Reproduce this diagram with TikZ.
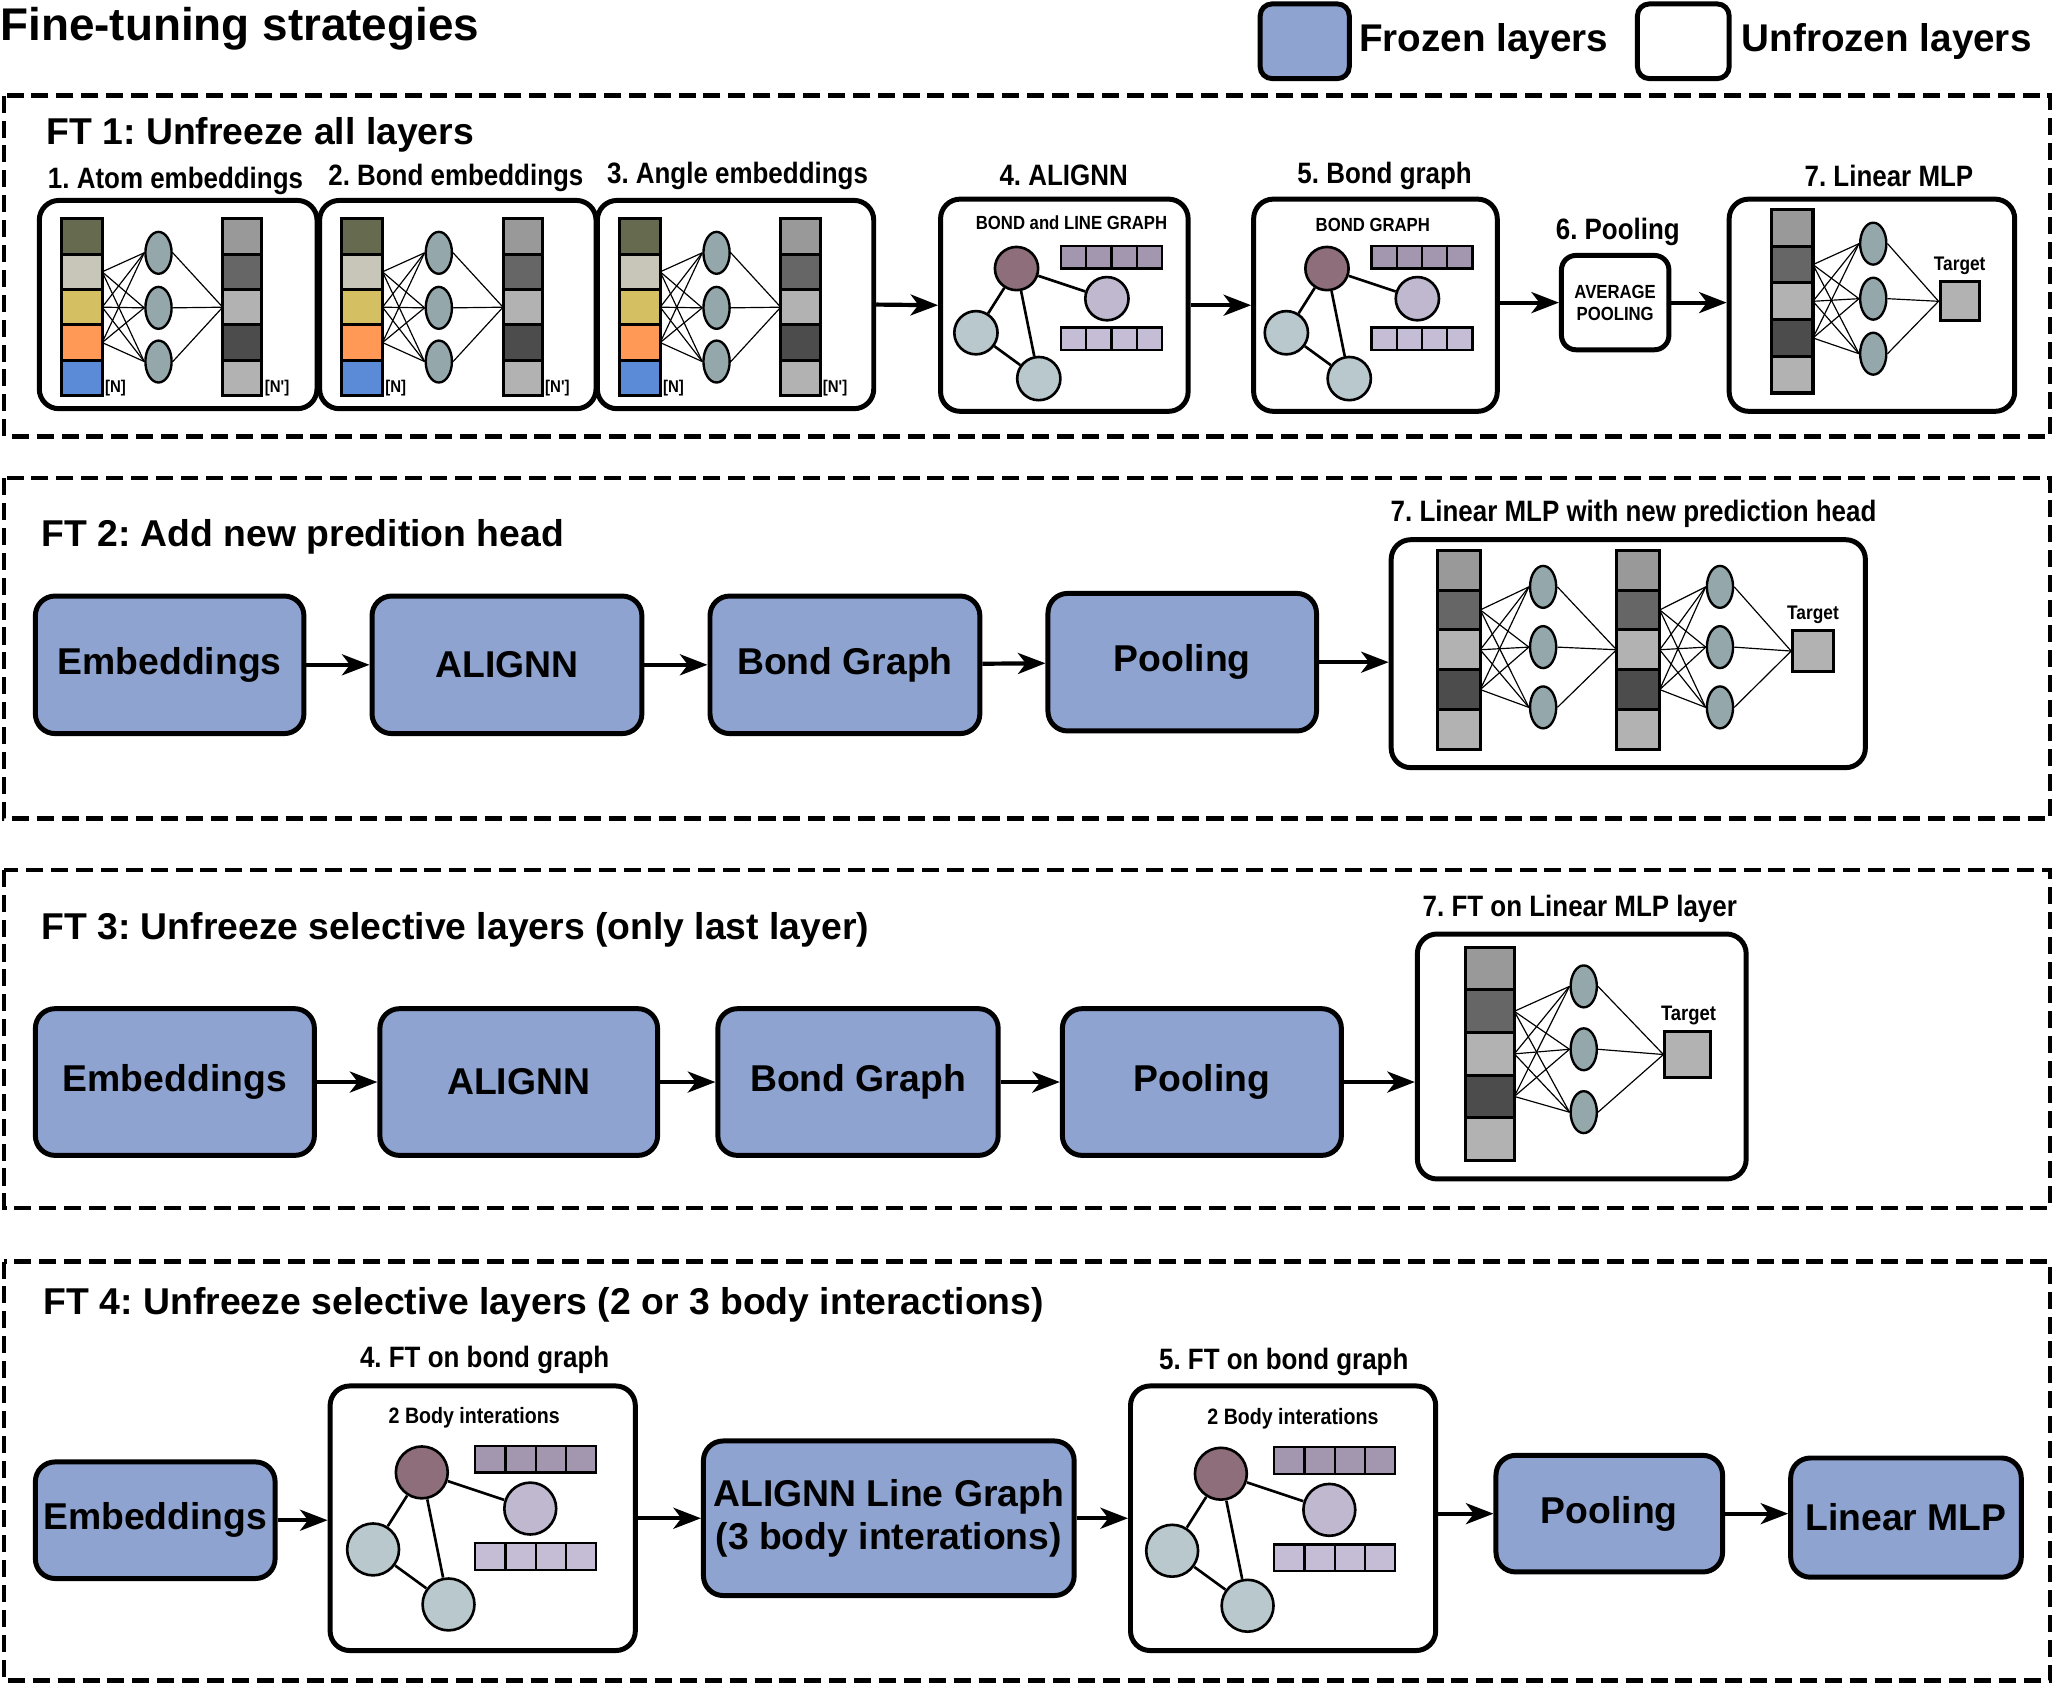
\documentclass[tikz,border=0pt]{standalone}
\usepackage{fontspec}
\setmainfont{Liberation Sans}
\newfontfamily\condf{Liberation Sans}[FakeStretch=0.88]
\usetikzlibrary{shapes.geometric,arrows.meta}
\definecolor{frz}{HTML}{8EA3CF}
\definecolor{ovc}{HTML}{94A7AA}
\definecolor{dkn}{HTML}{8D6E7A}
\definecolor{lpn}{HTML}{C0B8CF}
\definecolor{grn}{HTML}{B9C8CC}
\definecolor{bar1}{HTML}{A397B0}
\definecolor{bar2}{HTML}{C5BCD6}
\definecolor{c1}{HTML}{666B50}
\definecolor{c2}{HTML}{C8C6B8}
\definecolor{c3}{HTML}{D4BF62}
\definecolor{c4}{HTML}{FF9955}
\definecolor{c5}{HTML}{5B8BD6}
\frenchspacing
\tikzset{
 ubox/.style={draw, line width=3.8pt, rounded corners=15pt, fill=white, inner sep=0pt},
 fbox/.style={ubox, fill=frz, font=\fontsize{28.5}{33}\selectfont\bfseries, align=center},
 panel/.style={draw, line width=3.5pt, dash pattern=on 13pt off 6pt},
 arr/.style={-{Stealth[length=21pt,width=16pt,inset=6pt]}, line width=3.2pt},
 oval/.style={ellipse, draw, line width=1.8pt, fill=ovc, minimum width=20pt, minimum height=32pt, inner sep=0pt},
 gn/.style={circle, draw, line width=2pt, minimum size=33pt, inner sep=0pt},
 thin/.style={line width=0.9pt},
 cellf/.style={draw, line width=2.3pt},
 ptitle/.style={font=\fontsize{28.5}{32}\selectfont\bfseries, anchor=west},
 slabel/.style={font=\condf\fontsize{22.5}{26}\selectfont\bfseries},
 small/.style={font=\condf\fontsize{14.5}{17}\selectfont\bfseries, align=center},
}
% gray column: #1 x, #2 y, #3 w, #4 cell h
\newcommand{\graycol}[4]{%
 \foreach \cc [count=\k from 0] in {gray!80,gray!120,gray!60,gray!140,gray!60}{%
  \draw[cellf, fill=\cc] (#1,#2+\k*#4) rectangle ++(#3,#4);}}
% embedding unit: #1 name, #2 x shift
\newcommand{\embunit}[2]{%
 \begin{scope}[shift={(#2,0)}]
  \foreach \cc [count=\k from 0] in {c1,c2,c3,c4,c5}{%
   \draw[cellf, fill=\cc] (47,167+\k*27) rectangle ++(31,27);}
  \graycol{170}{167}{30}{27}
  \foreach \j/\yy in {1/193,2/235,3/276}{\node[oval] (#1o\j) at (121,\yy) {};}
  \coordinate (#1out) at (170,234.5);
  \foreach \yy in {207.5,234.5,261.5}{\foreach \j in {1,2,3}{\draw[thin] (78,\yy) -- (#1o\j.west);}}
  \foreach \j in {1,2,3}{\draw[thin] (#1o\j.east) -- (#1out);}
  \node[font=\condf\fontsize{13}{15}\selectfont\bfseries, anchor=west, inner sep=1pt] at (79,296) {[N]};
  \node[font=\condf\fontsize{13}{15}\selectfont\bfseries, anchor=west, inner sep=1pt] at (201,296) {[N']};
 \end{scope}}
% graph: #1 name, #2 x, #3 y, #4 scale
\newcommand{\bgraph}[4]{%
 \begin{scope}[shift={(#2,#3)}, scale=#4, every node/.append style={transform shape}]
  \node[gn, fill=dkn] (#1a) at (0,0) {};
  \node[gn, fill=lpn] (#1b) at (69,23) {};
  \node[gn, fill=grn] (#1c) at (-31,49) {};
  \node[gn, fill=grn] (#1d) at (17,84) {};
  \draw[line width=2pt] (#1a) -- (#1b) (#1a) -- (#1c) (#1a) -- (#1d) (#1c) -- (#1d);
  \foreach \k in {0,1,2,3}{%
   \draw[line width=1.7pt, fill=bar1] (34+\k*19.25,-17) rectangle ++(19.25,17);
   \draw[line width=1.7pt, fill=bar2] (34+\k*19.25,45) rectangle ++(19.25,17);}
 \end{scope}}
\begin{document}
\begin{tikzpicture}[x=1pt,y=-1pt]
\useasboundingbox (0,0) rectangle (1568,1286);
% title and legend
\node[anchor=west, font=\fontsize{35}{38}\selectfont\bfseries, inner sep=0pt] (title) at (0,22) {Fine-tuning strategies};
\node[ubox, fill=frz, rounded corners=9pt, minimum width=68pt, minimum height=57pt] (lgf) at (996,31.5) {};
\node[anchor=west, font=\fontsize{29.5}{32}\selectfont\bfseries] (lgft) at (1034,32) {Frozen layers};
\node[ubox, rounded corners=9pt, minimum width=70pt, minimum height=57pt] (lgu) at (1285,31.5) {};
\node[anchor=west, font=\fontsize{29.5}{32}\selectfont\bfseries] (lgut) at (1326,32) {Unfrozen layers};

% ---------- Panel 1
\draw[panel] (3,73) rectangle (1565,333);
\node[ptitle] (t1) at (32,103) {FT 1: Unfreeze all layers};
\node[ubox, minimum width=212pt, minimum height=159pt] (e1) at (136,232.5) {};
\node[ubox, minimum width=211pt, minimum height=159pt] (e2) at (349.5,232.5) {};
\node[ubox, minimum width=211pt, minimum height=159pt] (e3) at (561.5,232.5) {};
\embunit{ea}{0}\embunit{eb}{214}\embunit{ec}{426}
\node[slabel] at (134,138) {1. Atom embeddings};
\node[slabel] at (348,136) {2. Bond embeddings};
\node[slabel] at (563,134) {3. Angle embeddings};
\node[ubox, minimum width=189pt, minimum height=162pt] (al) at (812.5,233) {};
\node[slabel] at (812,134) {4. ALIGNN};
\node[small] at (818,170) {BOND and LINE GRAPH};
\bgraph{ga}{776}{205}{1}
\node[ubox, minimum width=186pt, minimum height=162pt] (bg) at (1050,233) {};
\node[slabel] at (1057,134) {5. Bond graph};
\node[small] at (1048,172) {BOND GRAPH};
\bgraph{gb}{1013}{205}{1}
\node[ubox, rounded corners=11pt, minimum width=82pt, minimum height=72pt, small] (po) at (1233,231) {AVERAGE\\POOLING};
\node[slabel] at (1235,177) {6. Pooling};
\node[ubox, minimum width=218pt, minimum height=162pt] (ml) at (1429,233) {};
\node[slabel] at (1442,134) {7. Linear MLP};
\graycol{1352}{160}{32}{28}
\foreach \j/\yy in {1/186,2/228,3/270}{\node[oval] (mo\j) at (1430,\yy) {};}
\node[draw, line width=2.3pt, fill=gray!60, minimum size=30pt, inner sep=0pt] (tg) at (1496,230) {};
\node[font=\condf\fontsize{15}{17}\selectfont\bfseries] at (1496,203) {Target};
\foreach \yy in {202,230,258}{\foreach \j in {1,2,3}{\draw[thin] (1384,\yy) -- (mo\j.west);}}
\foreach \j in {1,2,3}{\draw[thin] (mo\j.east) -- (tg.west);}
\draw[arr] (e3.east) -- (al.west);
\draw[arr] (al.east) -- (bg.west);
\draw[arr] (bg.east|-po.west) -- (po.west);
\draw[arr] (po.east) -- (ml.west|-po.east);

% ---------- Panel 2
\draw[panel] (3,365) rectangle (1565,625);
\node[ptitle] (t2) at (28,410) {FT 2: Add new predition head};
\node[fbox, minimum width=205pt, minimum height=105pt] (p2a) at (129.5,507.5) {Embeddings};
\node[fbox, minimum width=206pt, minimum height=105pt] (p2b) at (387,507.5) {ALIGNN};
\node[fbox, minimum width=206pt, minimum height=105pt] (p2c) at (645,507.5) {Bond Graph};
\node[fbox, minimum width=205pt, minimum height=105pt] (p2d) at (902.5,505.5) {Pooling};
\node[ubox, minimum width=362pt, minimum height=174pt] (p2m) at (1243,499) {};
\node[slabel] at (1247,392) {7. Linear MLP with new prediction head};
\graycol{1097}{420}{33}{30.4}
\graycol{1234}{420}{33}{30.4}
\foreach \j/\yy in {1/448,2/494,3/540}{\node[oval] (qa\j) at (1178,\yy) {}; \node[oval] (qb\j) at (1313,\yy) {};}
\node[draw, line width=2.3pt, fill=gray!60, minimum size=31pt, inner sep=0pt] (tg2) at (1384,497) {};
\node[font=\condf\fontsize{15}{17}\selectfont\bfseries] at (1384,469) {Target};
\foreach \yy in {465.6,496,526.4}{\foreach \j in {1,2,3}{\draw[thin] (1130,\yy) -- (qa\j.west); \draw[thin] (1267,\yy) -- (qb\j.west);}}
\foreach \j in {1,2,3}{\draw[thin] (qa\j.east) -- (1234,496); \draw[thin] (qb\j.east) -- (tg2.west);}
\draw[arr] (p2a) -- (p2b);
\draw[arr] (p2b) -- (p2c);
\draw[arr] (p2c) -- (p2d);
\draw[arr] (p2d.east) -- (p2m.west|-p2d.east);

% ---------- Panel 3
\draw[panel] (3,664) rectangle (1565,922);
\node[ptitle] (t3) at (28,710) {FT 3: Unfreeze selective layers (only last layer)};
\node[fbox, minimum width=213pt, minimum height=112pt] (p3a) at (133.5,826) {Embeddings};
\node[fbox, minimum width=212pt, minimum height=112pt] (p3b) at (396,826) {ALIGNN};
\node[fbox, minimum width=214pt, minimum height=112pt] (p3c) at (655,826) {Bond Graph};
\node[fbox, minimum width=213pt, minimum height=112pt] (p3d) at (917.5,826) {Pooling};
\node[ubox, minimum width=251pt, minimum height=187pt] (p3m) at (1207.5,806.5) {};
\node[slabel] at (1206,694) {7. FT on Linear MLP layer};
\graycol{1119}{723}{37}{32.6}
\foreach \j/\yy in {1/753,2/801,3/849}{\node[oval] (ra\j) at (1209,\yy) {};}
\node[draw, line width=2.3pt, fill=gray!60, minimum size=35pt, inner sep=0pt] (tg3) at (1288.5,805) {};
\node[font=\condf\fontsize{16}{18}\selectfont\bfseries] at (1289,775) {Target};
\foreach \yy in {772,804.5,837}{\foreach \j in {1,2,3}{\draw[thin] (1156,\yy) -- (ra\j.west);}}
\foreach \j in {1,2,3}{\draw[thin] (ra\j.east) -- (tg3.west);}
\draw[arr] (p3a) -- (p3b);
\draw[arr] (p3b) -- (p3c);
\draw[arr] (p3c) -- (p3d);
\draw[arr] (p3d.east) -- (p3m.west|-p3d.east);

% ---------- Panel 4
\draw[panel] (3,963) rectangle (1565,1283);
\node[ptitle] (t4) at (30,996) {FT 4: Unfreeze selective layers (2 or 3 body interactions)};
\node[fbox, minimum width=183pt, minimum height=89pt] (p4a) at (118.5,1160.5) {Embeddings};
\node[ubox, minimum width=233pt, minimum height=202pt] (p4b) at (368.5,1159) {};
\node[slabel] at (370,1038) {4. FT on bond graph};
\node[font=\condf\fontsize{17}{19}\selectfont\bfseries] at (362,1082) {2 Body interations};
\bgraph{gc}{322}{1124}{1.2}
\node[fbox, minimum width=283pt, minimum height=118pt] (p4c) at (678.5,1159) {ALIGNN Line Graph\\(3 body interations)};
\node[ubox, minimum width=233pt, minimum height=202pt] (p4d) at (979.5,1159) {};
\node[slabel] at (980,1040) {5. FT on bond graph};
\node[font=\condf\fontsize{17}{19}\selectfont\bfseries] at (987,1083) {2 Body interations};
\bgraph{gd}{932}{1125}{1.2}
\node[fbox, minimum width=173pt, minimum height=89pt] (p4e) at (1228.5,1155.5) {Pooling};
\node[fbox, minimum width=176pt, minimum height=91pt] (p4f) at (1455,1158.5) {Linear MLP};
\draw[arr] (p4a.east) -- (p4b.west|-p4a.east);
\draw[arr] (p4b.east|-p4c.west) -- (p4c.west);
\draw[arr] (p4c.east) -- (p4d.west|-p4c.east);
\draw[arr] (p4d.east|-p4e.west) -- (p4e.west);
\draw[arr] (p4e.east) -- (p4f.west|-p4e.east);
\end{tikzpicture}
\end{document}
